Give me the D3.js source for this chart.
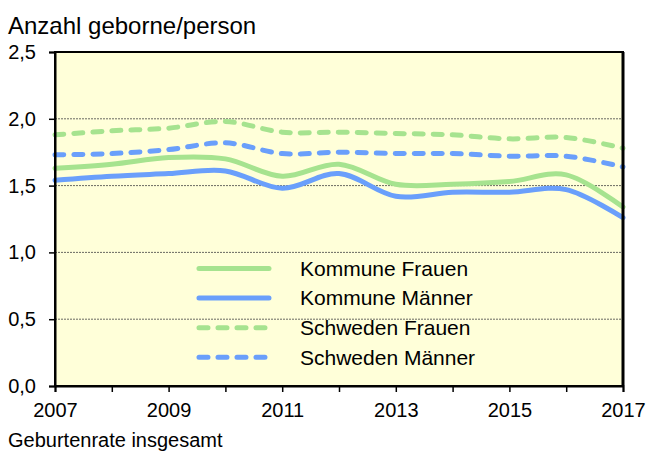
<!DOCTYPE html>
<html>
<head>
<meta charset="utf-8">
<script src="https://cdn.jsdelivr.net/npm/d3@7"></script>
<style>
  body { margin: 0; background: #fff; }
  svg text { font-family: "Liberation Sans", Arial, sans-serif; fill: #000; }
</style>
</head>
<body>
<div id="main"></div>
<script>
var years = [2007, 2008, 2009, 2010, 2011, 2012, 2013, 2014, 2015, 2016, 2017];
var kommuneFrauen  = [1.63, 1.66, 1.71, 1.70, 1.57, 1.66, 1.51, 1.51, 1.53, 1.58, 1.34];
var kommuneMaenner = [1.54, 1.57, 1.59, 1.61, 1.48, 1.59, 1.42, 1.45, 1.45, 1.47, 1.26];
var schwedenFrauen = [1.88, 1.91, 1.93, 1.98, 1.90, 1.90, 1.89, 1.88, 1.85, 1.86, 1.78];
var schwedenMaenner = [1.73, 1.74, 1.77, 1.82, 1.74, 1.75, 1.74, 1.74, 1.72, 1.72, 1.64];
var seriesNames = ["Kommune Frauen", "Kommune Männer", "Schweden Frauen", "Schweden Männer"];
var yTicks = [0, 0.5, 1.0, 1.5, 2.0, 2.5];
var xLabelYears = [2007, 2009, 2011, 2013, 2015, 2017];

var series = [
    {name: seriesNames[0], values: kommuneFrauen, color: "#a6e38f", dash: null},
    {name: seriesNames[1], values: kommuneMaenner, color: "#6a9ffb", dash: null},
    {name: seriesNames[2], values: schwedenFrauen, color: "#a6e38f", dash: "9,10"},
    {name: seriesNames[3], values: schwedenMaenner, color: "#6a9ffb", dash: "9,10"}
];

var svg = d3.select("#main").append("svg")
    .attr("width", 648)
    .attr("height", 452);

var margin = {top: 52, right: 25, bottom: 66, left: 55},
    width = 648 - margin.left - margin.right,
    height = 452 - margin.top - margin.bottom,
    g = svg.append("g").attr("transform", "translate(" + margin.left + "," + margin.top + ")");

var x = d3.scaleLinear().domain([2007, 2017]).range([0, width]);
var y = d3.scaleLinear().domain([0, 2.5]).range([height, 0]);
var fmt = function(d) { return d3.format(".1f")(d).replace(".", ","); };

// plot background
g.append("rect")
    .attr("width", width)
    .attr("height", height)
    .attr("fill", "#ffffd9");

// dotted gridlines
g.append("g")
    .selectAll("line")
    .data(yTicks.filter(function(d) { return d > 0 && d < 2.5; }))
    .enter().append("line")
    .attr("x1", 0)
    .attr("x2", width)
    .attr("y1", function(d) { return y(d); })
    .attr("y2", function(d) { return y(d); })
    .attr("stroke", "#444")
    .attr("stroke-width", 0.8)
    .attr("stroke-dasharray", "2,1");

var line = d3.line()
    .x(function(d, i) { return x(years[i]); })
    .y(function(d) { return y(d); })
    .curve(d3.curveCatmullRom.alpha(0));

// draw lines in reverse so Kommune lines sit on top
series.slice().reverse().forEach(function(s) {
    g.append("path")
        .datum(s.values)
        .attr("fill", "none")
        .attr("stroke", s.color)
        .attr("stroke-width", 5)
        .attr("stroke-linecap", "round")
        .attr("stroke-dasharray", s.dash)
        .attr("d", line);
});

// frame
g.append("rect")
    .attr("width", width)
    .attr("height", height)
    .attr("fill", "none")
    .attr("stroke", "#000")
    .attr("stroke-width", 2);
g.append("line")
    .attr("x1", width).attr("x2", width)
    .attr("y1", 0).attr("y2", height)
    .attr("stroke", "#000")
    .attr("stroke-width", 3);

// y axis
var yAxis = g.append("g")
    .call(d3.axisLeft(y).tickValues(yTicks).tickFormat(fmt).tickSize(6).tickPadding(13));
yAxis.select(".domain").attr("stroke-width", 2);
yAxis.selectAll(".tick line").attr("stroke-width", 1.5);
yAxis.selectAll("text").style("font-size", "20px");

// x axis
var xAxis = g.append("g")
    .attr("transform", "translate(0," + height + ")")
    .call(d3.axisBottom(x).tickValues(years).tickSize(6).tickPadding(11)
        .tickFormat(function(d) { return xLabelYears.indexOf(d) >= 0 ? d : ""; }));
xAxis.select(".domain").attr("stroke-width", 2);
xAxis.selectAll(".tick line").attr("stroke-width", 1.5);
xAxis.selectAll("text").style("font-size", "20px");

// legend
var legend = g.append("g")
    .attr("transform", "translate(" + x(2009.535) + "," + y(0.88) + ")");
series.forEach(function(s, i) {
    var row = legend.append("g").attr("transform", "translate(0," + (i * 29.6) + ")");
    row.append("line")
        .attr("x1", 0).attr("x2", 70)
        .attr("stroke", s.color)
        .attr("stroke-width", 5)
        .attr("stroke-linecap", "round")
        .attr("stroke-dasharray", s.dash);
    row.append("text")
        .attr("x", 101)
        .attr("dy", "0.35em")
        .style("font-size", "21px")
        .text(s.name);
});

svg.append("text")
    .attr("x", 8)
    .attr("y", 34)
    .style("font-size", "24px")
    .text("Anzahl geborne/person");

svg.append("text")
    .attr("x", 8)
    .attr("y", 447)
    .style("font-size", "20px")
    .text("Geburtenrate insgesamt");
</script>
</body>
</html>
